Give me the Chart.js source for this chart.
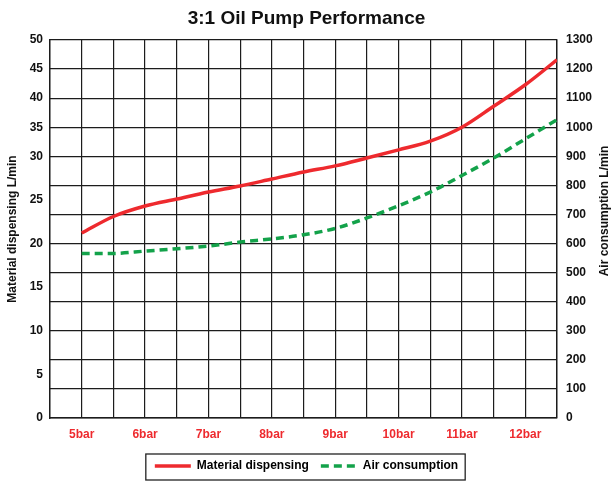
<!DOCTYPE html>
<html><head><meta charset="utf-8">
<script src="https://cdn.jsdelivr.net/npm/chart.js@4"></script>
<style>html,body{margin:0;padding:0;background:#fff}#wrap{width:613px;height:482px;position:relative}</style>
</head><body><div id="wrap"><canvas id="c"></canvas></div>
<script>
// ---- data ----
const pressuresBar = [5, 5.5, 6, 6.5, 7, 7.5, 8, 8.5, 9, 9.5, 10, 10.5, 11, 11.5, 12, 12.5];
const materialLmin = [21.2, 23.1, 24.3, 25.1, 25.9, 26.6, 27.4, 28.2, 28.9, 29.8, 31.1, 32.6, 35.0, 38.6, 42.3, 46.6];
const airLmin = [566, 566, 574, 582, 591, 605, 616, 630, 652, 688, 730, 777, 834, 894, 960, 1026];
const xLabelBars = [5, 6, 7, 8, 9, 10, 11, 12];
const leftTicks = [0, 5, 10, 15, 20, 25, 30, 35, 40, 45, 50];
const rightTicks = [0, 100, 200, 300, 400, 500, 600, 700, 800, 900, 1000, 1100, 1200, 1300];
// left axis is drawn in two linear pieces against the right axis grid
const leftBreaks = [0, 30, 50];
const rightBreaks = [0, 900, 1300];
const rightTitle = 'Air consumption L/min';

function leftToRight(v) {
  for (let i = 1; i < leftBreaks.length; i++) {
    if (v <= leftBreaks[i] || i === leftBreaks.length - 1) {
      const t = (v - leftBreaks[i - 1]) / (leftBreaks[i] - leftBreaks[i - 1]);
      return rightBreaks[i - 1] + t * (rightBreaks[i] - rightBreaks[i - 1]);
    }
  }
}
function rightToLeft(u) {
  for (let i = 1; i < rightBreaks.length; i++) {
    if (u <= rightBreaks[i] || i === rightBreaks.length - 1) {
      const t = (u - rightBreaks[i - 1]) / (rightBreaks[i] - rightBreaks[i - 1]);
      return leftBreaks[i - 1] + t * (leftBreaks[i] - leftBreaks[i - 1]);
    }
  }
}
const rMax = rightBreaks[rightBreaks.length - 1];

class SplitScale extends Chart.LinearScale {
  getPixelForValue(v) {
    if (v === null || v === undefined || isNaN(v)) return NaN;
    return this.getPixelForDecimal(leftToRight(v) / rMax);
  }
  getValueForPixel(p) {
    return rightToLeft(this.getDecimalForPixel(p) * rMax);
  }
}
SplitScale.id = 'split';
SplitScale.defaults = Chart.LinearScale.defaults;
Chart.register(SplitScale);

const RED = '#ee2a2e';
const GREEN = '#13a24a';
const GRID = '#1c1c1c';
const FONT = "'Liberation Sans', Arial, sans-serif";

const extras = {
  id: 'extras',
  afterDraw(chart) {
    const ctx = chart.ctx;
    const hb = chart.legend && chart.legend.legendHitBoxes;
    if (hb && hb.length) {
      const l = Math.min(...hb.map(h => h.left)) - 9;
      const r = Math.max(...hb.map(h => h.left + h.width)) + 7;
      const t = Math.min(...hb.map(h => h.top)) - 6;
      const b = Math.max(...hb.map(h => h.top + h.height)) + 8;
      ctx.save();
      ctx.strokeStyle = '#222';
      ctx.lineWidth = 1.3;
      ctx.strokeRect(l, t, r - l, b - t);
      ctx.restore();
    }
    // right axis title, reading bottom-to-top like the left one
    const s = chart.scales.yR;
    ctx.save();
    ctx.translate(s.right - 8, (s.top + s.bottom) / 2 - 18);
    ctx.rotate(-Math.PI / 2);
    ctx.fillStyle = '#111';
    ctx.font = "bold 12px " + FONT;
    ctx.textAlign = 'center';
    ctx.textBaseline = 'middle';
    ctx.fillText(rightTitle, 0, 0);
    ctx.restore();
  }
};

new Chart(document.getElementById('c'), {
  type: 'line',
  data: {
    datasets: [
      {
        label: 'Material dispensing',
        data: pressuresBar.map((p, i) => ({ x: p, y: materialLmin[i] })),
        borderColor: RED, backgroundColor: RED,
        borderWidth: 3.5, pointRadius: 0, cubicInterpolationMode: 'monotone',
        xAxisID: 'x', yAxisID: 'yL'
      },
      {
        label: 'Air consumption',
        data: pressuresBar.map((p, i) => ({ x: p, y: airLmin[i] })),
        borderColor: GREEN, backgroundColor: GREEN,
        borderWidth: 3.5, borderDash: [8, 5], pointRadius: 0, cubicInterpolationMode: 'monotone',
        xAxisID: 'x', yAxisID: 'yR'
      }
    ]
  },
  options: {
    responsive: true, maintainAspectRatio: false, animation: false,
    layout: { padding: 0 },
    plugins: {
      title: {
        display: true, text: '3:1 Oil Pump Performance', color: '#111',
        font: { family: FONT, size: 19, weight: 'bold', lineHeight: 1.2 },
        padding: { top: 7, bottom: 10.2 }
      },
      legend: {
        position: 'bottom',
        labels: {
          color: '#111', font: { family: FONT, size: 12, weight: 'bold' },
          usePointStyle: true, pointStyleWidth: 36, padding: 12,
          generateLabels(chart) {
            return chart.data.datasets.map((d, i) => ({
              text: d.label, fillStyle: d.borderColor, strokeStyle: d.borderColor,
              lineWidth: 3.5, lineDash: d.borderDash || [], pointStyle: 'line',
              datasetIndex: i, hidden: false
            }));
          }
        }
      },
      tooltip: { enabled: false }
    },
    scales: {
      x: {
        type: 'linear', position: 'bottom',
        min: 4.5, max: 12.5,
        afterBuildTicks(s) {
          const t = [];
          for (let i = 0; i <= 16; i++) t.push({ value: 4.5 + i * 0.5 });
          s.ticks = t;
        },
        ticks: {
          autoSkip: false, maxRotation: 0, padding: 9, color: RED,
          font: { family: FONT, size: 12, weight: 'bold' },
          callback: (v) => xLabelBars.includes(v) ? v + 'bar' : ''
        },
        grid: { color: GRID, lineWidth: 1.2, drawTicks: false },
        border: { color: GRID, width: 1.4 },
        afterFit(s) { s.height = 30; }
      },
      yL: {
        type: 'split', position: 'left', min: 0, max: 50,
        afterBuildTicks(s) { s.ticks = leftTicks.map(v => ({ value: v })); },
        ticks: { padding: 7, color: '#111', font: { family: FONT, size: 12, weight: 'bold' },
          callback: (v) => String(v) },
        grid: { display: false, drawTicks: false },
        border: { color: GRID, width: 1.4 },
        title: {
          display: true, text: 'Material dispensing L/min', color: '#111',
          font: { family: FONT, size: 12, weight: 'bold' }, padding: { top: 5, bottom: 0 }
        },
        afterFit(s) { s.width = 50; }
      },
      yR: {
        type: 'linear', position: 'right', min: 0, max: 1300,
        afterBuildTicks(s) { s.ticks = rightTicks.map(v => ({ value: v })); },
        ticks: { padding: 9, color: '#111', font: { family: FONT, size: 12, weight: 'bold' },
          callback: (v) => String(v) },
        grid: { color: GRID, lineWidth: 1.2, drawTicks: false },
        border: { color: GRID, width: 1.4 },
        title: { display: false },
        afterFit(s) { s.width = 56; }
      }
    }
  },
  plugins: [extras]
});
</script>
</body></html>
